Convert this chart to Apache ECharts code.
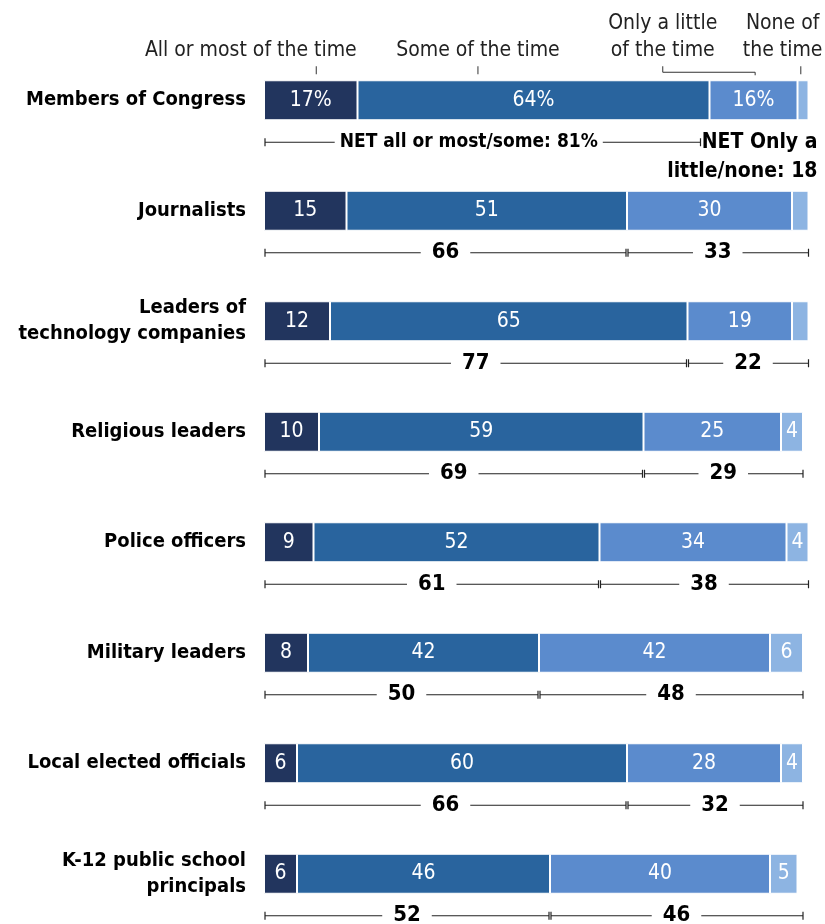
<!DOCTYPE html>
<html>
<head>
<meta charset="utf-8">
<script src="https://cdn.jsdelivr.net/npm/echarts@6/dist/echarts.min.js"></script>
<style>
  html, body { margin: 0; padding: 0; background: #fff; }
  #chart { width: 825px; height: 924px; }
</style>
</head>
<body>
<div id="chart"></div>
<script>
// Groups asked about
const categories = [
  'Members of Congress',
  'Journalists',
  'Leaders of\ntechnology companies',
  'Religious leaders',
  'Police officers',
  'Military leaders',
  'Local elected officials',
  'K-12 public school\nprincipals'
];

// Share answering each frequency
const allOrMost   = [17, 15, 12, 10, 9, 8, 6, 6];
const someTime    = [64, 51, 65, 59, 52, 42, 60, 46];
const littleTime  = [16, 30, 19, 25, 34, 42, 28, 40];
const noneTime    = [2, 3, 3, 4, 4, 6, 4, 5];

// NET figures
const netAllSome    = [81, 66, 77, 69, 61, 50, 66, 52];
const netLittleNone = [18, 33, 22, 29, 38, 48, 32, 46];

// Column headers above the first bar
const headerLabels = ['All or most of the time', 'Some of the time', 'Only a little\nof the time', 'None of\nthe time'];

const FONT = '"DejaVu Sans Condensed", "Liberation Sans", sans-serif';
const colors = ['#22355e', '#29649e', '#5b8bcd', '#8db4e2'];

// header layout (axis units)
const headerTextAt = [-2.4, 38.9, 72.5, 94.3];
const headerTickAt = [9.5, 38.9, null, 97.6];

const chart = echarts.init(document.getElementById('chart'));

function segLabel(p) {
  if (p.value < 4) return '';
  return p.dataIndex === 0 ? p.value + '%' : String(p.value);
}

const seriesNames = ['All or most of the time', 'Some of the time', 'Only a little of the time', 'None of the time'];
const seriesData = [allOrMost, someTime, littleTime, noneTime];

const barSeries = seriesData.map((arr, k) => ({
  name: seriesNames[k],
  type: 'bar',
  stack: 'total',
  barWidth: 40,
  data: arr,
  itemStyle: { color: colors[k], borderColor: '#fff', borderWidth: 1 },
  label: {
    show: true,
    position: 'inside',
    color: '#fff',
    fontFamily: FONT,
    fontSize: 21,
    formatter: segLabel
  },
  emphasis: { disabled: true },
  silent: true
}));

const lineColor = '#222';

function bracket(children, x1, x2, y) {
  children.push({ type: 'line', shape: { x1: x1, y1: y, x2: x2, y2: y }, style: { stroke: lineColor, lineWidth: 1 } });
  children.push({ type: 'line', shape: { x1: x1, y1: y - 4, x2: x1, y2: y + 4 }, style: { stroke: lineColor, lineWidth: 1.2 } });
  children.push({ type: 'line', shape: { x1: x2, y1: y - 4, x2: x2, y2: y + 4 }, style: { stroke: lineColor, lineWidth: 1.2 } });
}

function boldText(children, text, x, y, size, pad) {
  children.push({
    type: 'text',
    x: x, y: y,
    style: {
      text: text,
      fill: '#000',
      font: 'bold ' + (size || 22) + 'px ' + FONT,
      align: 'center',
      verticalAlign: 'middle',
      backgroundColor: '#fff',
      padding: [2, pad || 11]
    }
  });
}

// NET brackets under each bar
const netSeries = {
  type: 'custom',
  silent: true,
  clip: false,
  data: categories.map((c, i) => [i, netAllSome[i], netLittleNone[i]]),
  renderItem: function (params, api) {
    const i = api.value(0);
    const a = api.value(1);
    const b = api.value(2);
    const p0 = api.coord([0, i]);
    const pA = api.coord([a, i]);
    const pB = api.coord([a + b, i]);
    const y = p0[1] + 42;
    const children = [];
    if (i === 0) {
      bracket(children, p0[0] + 1, pA[0] - 9, y);
      boldText(children, 'NET all or most/some: ' + a + '%', (p0[0] + pA[0]) / 2 - 18, y, 19, 5);
      children.push({
        type: 'text', x: pB[0] + 9, y: y - 14,
        style: {
          text: 'NET Only a\nlittle/none: ' + b,
          fill: '#000', font: 'bold 21px ' + FONT,
          align: 'right', verticalAlign: 'top', lineHeight: 29
        }
      });
    } else {
      bracket(children, p0[0] + 1, pA[0] - 1, y);
      bracket(children, pA[0] + 1, pB[0], y);
      boldText(children, String(a), (p0[0] + pA[0]) / 2, y);
      boldText(children, String(b), (pA[0] + pB[0]) / 2, y);
    }
    return { type: 'group', children: children };
  }
};

// Column headers with pointer ticks above the first bar
const headerSeries = {
  type: 'custom',
  silent: true,
  clip: false,
  data: [[0]],
  renderItem: function (params, api) {
    const top = api.coord([0, 0])[1] - 20;
    const children = [];
    headerLabels.forEach((t, k) => {
      const x = api.coord([headerTextAt[k], 0])[0];
      children.push({
        type: 'text', x: x, y: top - 16,
        style: {
          text: t, fill: '#222', font: '21px ' + FONT,
          align: 'center', verticalAlign: 'bottom', lineHeight: 27
        }
      });
      if (headerTickAt[k] !== null) {
        const tx = api.coord([headerTickAt[k], 0])[0];
        children.push({ type: 'line', shape: { x1: tx, y1: top - 14, x2: tx, y2: top - 6 }, style: { stroke: '#333', lineWidth: 1 } });
      }
    });
    // bracket under "Only a little of the time"
    const bx1 = api.coord([72.5, 0])[0];
    const bx2 = api.coord([89.3, 0])[0];
    children.push({
      type: 'polyline',
      shape: { points: [[bx1, top - 14], [bx1, top - 8], [bx2, top - 8], [bx2, top - 5]] },
      style: { stroke: '#333', lineWidth: 1, fill: null }
    });
    return { type: 'group', children: children };
  }
};

chart.setOption({
  animation: false,
  backgroundColor: '#fff',
  grid: { left: 264, top: 45, width: 550, height: 884, containLabel: false, outerBoundsMode: 'none' },
  xAxis: {
    type: 'value', min: 0, max: 100,
    show: false
  },
  yAxis: {
    type: 'category',
    data: categories,
    inverse: true,
    axisLine: { show: false },
    axisTick: { show: false },
    axisLabel: {
      color: '#000',
      fontFamily: FONT,
      fontWeight: 'bold',
      fontSize: 20,
      lineHeight: 26,
      margin: 18,
      align: 'right'
    }
  },
  series: barSeries.concat([netSeries, headerSeries])
});
</script>
</body>
</html>
